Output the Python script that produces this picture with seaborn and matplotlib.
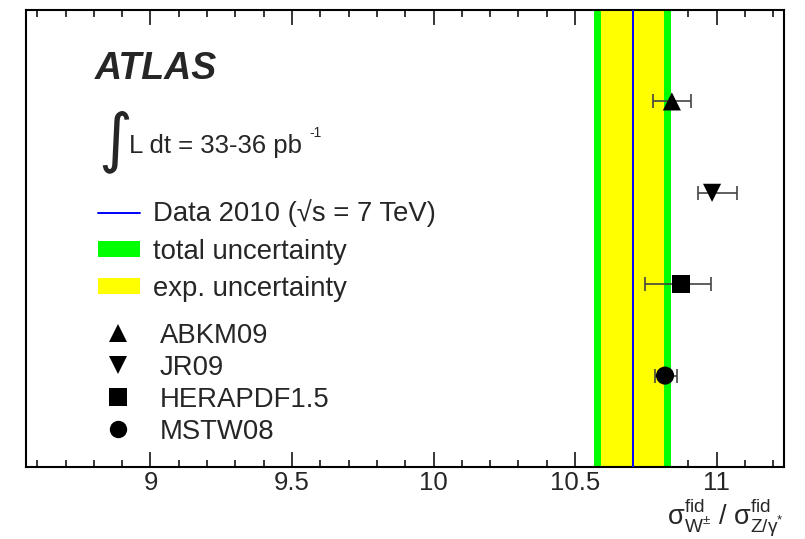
import numpy as np
import matplotlib
matplotlib.use('Agg')
import matplotlib.pyplot as plt
import seaborn as sns
from matplotlib.lines import Line2D
from matplotlib.patches import Patch

# measured ratio and its uncertainty bands
data_ratio = 10.703
exp_unc = 0.112
total_unc = 0.135

# theory predictions (top to bottom)
pdf_names = ['ABKM09', 'JR09', 'HERAPDF1.5', 'MSTW08']
pdf_ratio = [10.842, 10.984, 10.874, 10.818]
pdf_err_lo = [0.065, 0.048, 0.127, 0.035]
pdf_err_hi = [0.066, 0.087, 0.106, 0.042]
pdf_markers = {'ABKM09': '^', 'JR09': 'v', 'HERAPDF1.5': 's', 'MSTW08': 'o'}

sns.set_theme(style='ticks')
plt.rcParams['font.family'] = ['Liberation Sans', 'DejaVu Sans']
plt.rcParams['mathtext.fontset'] = 'custom'
plt.rcParams['mathtext.rm'] = 'Liberation Sans'
plt.rcParams['mathtext.it'] = 'Liberation Sans:italic'
plt.rcParams['mathtext.bf'] = 'Liberation Sans:bold'

fig = plt.figure(figsize=(8.05, 5.39), dpi=100)
ax = fig.add_axes([0.0329, 0.1336, 0.9406, 0.8478])

# bands
ax.axvspan(data_ratio - total_unc, data_ratio + total_unc, color='#00ff00', lw=0, zorder=1)
ax.axvspan(data_ratio - exp_unc, data_ratio + exp_unc, color='#ffff00', lw=0, zorder=2)
ax.axvline(data_ratio, color='#0000ff', lw=1.4, zorder=3)

# predictions
ypos = np.arange(len(pdf_names), 0, -1)
ax.errorbar(pdf_ratio, ypos, xerr=[pdf_err_lo, pdf_err_hi], fmt='none',
            ecolor='#444444', elinewidth=1.2, capsize=5, capthick=1.2, zorder=4)
sns.scatterplot(x=pdf_ratio, y=ypos, style=pdf_names, markers=pdf_markers,
                color='black', s=170, edgecolor='none', legend=False, ax=ax, zorder=5)

ax.set_xlim(8.562, 11.237)
ax.set_ylim(0, 5)
ax.set_yticks([])
ax.set_xticks([9, 9.5, 10, 10.5, 11])
ax.set_xticklabels(['9', '9.5', '10', '10.5', '11'])
ax.set_xticks(np.arange(8.6, 11.25, 0.1), minor=True)
ax.tick_params(axis='x', which='both', direction='in', top=True, bottom=True,
               labelsize=18.5, pad=3, color='black', width=1.1)
ax.tick_params(axis='x', which='major', length=10.8)
ax.tick_params(axis='x', which='minor', length=5)
for sp in ax.spines.values():
    sp.set_linewidth(1.5)
    sp.set_color('black')

ax.set_xlabel(r'$\mathrm{\sigma}^{\mathrm{fid}}_{\mathrm{W^{\pm}}}$ / '
              r'$\mathrm{\sigma}^{\mathrm{fid}}_{\mathrm{Z/\gamma^{*}}}$',
              fontsize=19.5, loc='right', labelpad=1)

# labels
ax.text(0.0905, 0.849, 'ATLAS', transform=ax.transAxes, fontsize=27,
        fontweight='bold', fontstyle='italic', va='baseline')
ax.text(0.095, 0.713, '\u222b', transform=ax.transAxes, fontsize=47,
        family='DejaVu Sans', va='center', ha='left')
ax.text(0.1354, 0.687, 'L dt = 33-36 pb', transform=ax.transAxes,
        fontsize=18.5, va='baseline')
ax.text(0.373, 0.722, '-1', transform=ax.transAxes, fontsize=10, va='baseline')

h1 = [Line2D([], [], color='#0000ff', lw=1.4),
      Patch(facecolor='#00ff00', edgecolor='none'),
      Patch(facecolor='#ffff00', edgecolor='none')]
l1 = ['Data 2010 (\u221as = 7 TeV)', 'total uncertainty', 'exp. uncertainty']
leg1 = ax.legend(h1, l1, loc='upper left', bbox_to_anchor=(0.0944, 0.5855),
                 frameon=False, fontsize=19.8, borderpad=0, borderaxespad=0,
                 handlelength=1.53, handletextpad=0.47, handleheight=0.51,
                 labelspacing=0.41)
ax.add_artist(leg1)

h2 = [Line2D([], [], ls='none', marker=pdf_markers[n], color='black',
             markersize=12.5, markeredgewidth=0) for n in pdf_names]
ax.legend(h2, pdf_names, loc='upper left', bbox_to_anchor=(0.1027, 0.316),
          frameon=False, fontsize=19.8, borderpad=0, borderaxespad=0,
          handlelength=1.0, handletextpad=1.03, labelspacing=0.22)

fig.savefig('out.png', dpi=100)
